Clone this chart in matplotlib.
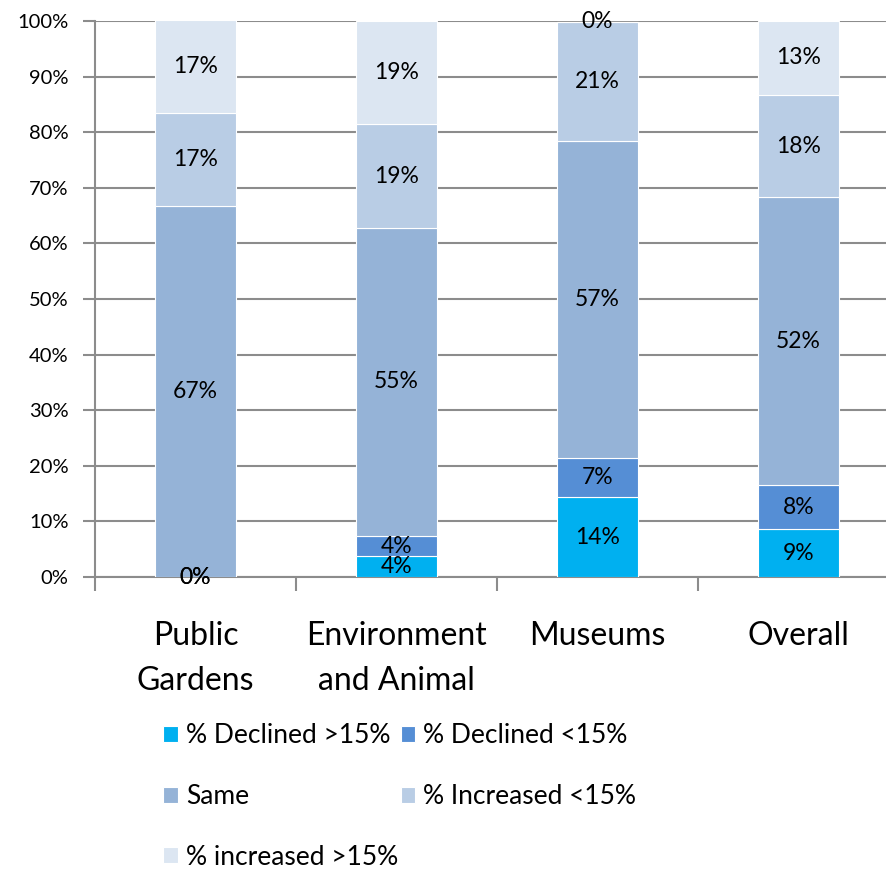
import matplotlib
matplotlib.use("Agg")
import matplotlib.pyplot as plt
import numpy as np

plt.rcParams['font.family'] = ['Lato', 'DejaVu Sans']

categories = ["Public\nGardens", "Environment\nand Animal", "Museums", "Overall"]
series_names = ["% Declined >15%", "% Declined <15%", "Same",
                "% Increased <15%", "% increased >15%"]
colors = ["#00B0F0", "#558ED5", "#95B3D7", "#B9CDE5", "#DCE6F2"]

declined_hi = [0.0, 3.7, 14.3, 8.6]
declined_lo = [0.0, 3.7, 7.1, 7.9]
same = [66.7, 55.4, 57.1, 51.8]
increased_lo = [16.7, 18.6, 21.4, 18.4]
increased_hi = [16.7, 18.6, 0.0, 13.3]

series = [declined_hi, declined_lo, same, increased_lo, increased_hi]
y_ticks = [0, 10, 20, 30, 40, 50, 60, 70, 80, 90, 100]

W, H = 886, 871
fig = plt.figure(figsize=(W / 100, H / 100), dpi=100)
ax = fig.add_axes([95 / W, 1 - 577 / H, 804 / W, (577 - 21) / H])

x = np.arange(len(categories))
bottom = np.zeros(len(categories))
handles = []
for name, vals, col in zip(series_names, series, colors):
    vals = np.array(vals)
    b = ax.bar(x, vals, width=0.4, bottom=bottom, color=col,
               edgecolor="white", linewidth=0.8, label=name, zorder=3)
    handles.append(b)
    for xi, v, b0 in zip(x, vals, bottom):
        ax.text(xi, b0 + v / 2, f"{v:.0f}%", ha="center", va="center",
                fontsize=16.5, color="black", zorder=4)
    bottom += vals

ax.set_xlim(-0.5, 3.5)
ax.set_ylim(0, 100)
ax.set_yticks(y_ticks)
ax.set_yticklabels([f"{t}%" for t in y_ticks], fontsize=14.5)
ax.yaxis.grid(True, color="#8c8c8c", linewidth=1.5, zorder=0)
ax.set_axisbelow(True)

ax.set_xticks(x)
ax.set_xticklabels(categories, fontsize=23, linespacing=1.6)
ax.tick_params(axis="x", length=0, pad=32)
ax.set_xticks(np.arange(-0.5, 4.0, 1.0), minor=True)
ax.tick_params(axis="x", which="minor", length=10, width=1.5, color="#8c8c8c")
ax.tick_params(axis="y", length=9, width=1.5, color="#8c8c8c", pad=10)

for s in ["top", "right"]:
    ax.spines[s].set_visible(False)
for s in ["left", "bottom"]:
    ax.spines[s].set_color("#8c8c8c")
    ax.spines[s].set_linewidth(1.5)

order = [0, 2, 4, 1, 3]
leg = fig.legend([handles[i] for i in order], [series_names[i] for i in order],
                 ncol=2, loc="upper left", bbox_to_anchor=(163 / W, 1 - 723 / H),
                 frameon=False, fontsize=19, handlelength=0.56, handleheight=0.56,
                 handletextpad=0.3, columnspacing=0.1, labelspacing=1.36,
                 borderpad=0, borderaxespad=0)

fig.savefig("out.png", dpi=100)
